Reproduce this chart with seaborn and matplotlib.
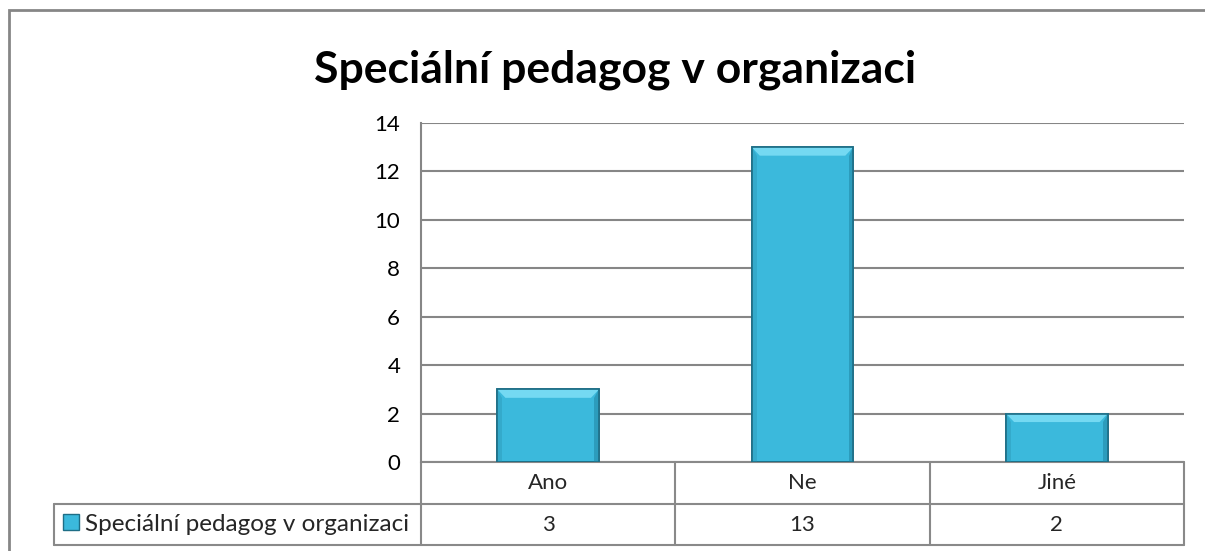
import matplotlib
matplotlib.use("Agg")
import matplotlib.pyplot as plt
import matplotlib.transforms as mtransforms
import seaborn as sns
import pandas as pd
from matplotlib.patches import Rectangle, Polygon

categories = ["Ano", "Ne", "Jiné"]
values = [3, 13, 2]
series_name = "Speciální pedagog v organizaci"
title = "Speciální pedagog v organizaci"
y_ticks = [0, 2, 4, 6, 8, 10, 12, 14]

sns.set_theme(style="white")
plt.rcParams["font.family"] = ["Lato", "DejaVu Sans"]

df = pd.DataFrame({"kategorie": categories, "pocet": values})

fig = plt.figure(figsize=(12.05, 5.51), dpi=100)
ax = fig.add_axes([0.3494, 0.1615, 0.6332, 0.6153])

bar_color = "#3BB9DC"
edge = "#1E6E86"
sns.barplot(data=df, x="kategorie", y="pocet", color=bar_color, width=0.4,
            saturation=1, edgecolor=edge, linewidth=1.2, ax=ax, zorder=3)

# bevel on each bar
for p in list(ax.patches):
    x0, w, h = p.get_x(), p.get_width(), p.get_height()
    dx = w * 0.08
    dy = 0.35
    ax.add_patch(Polygon([(x0, h), (x0 + w, h), (x0 + w - dx, h - dy), (x0 + dx, h - dy)],
                         closed=True, facecolor="#74D9F2", edgecolor="none", zorder=4))
    ax.add_patch(Polygon([(x0 + w, h), (x0 + w, 0), (x0 + w - dx * 0.6, 0), (x0 + w - dx * 0.6, h - dy)],
                         closed=True, facecolor="#2C9CBC", edgecolor="none", zorder=4))
    ax.add_patch(Polygon([(x0, h), (x0, 0), (x0 + dx * 0.6, 0), (x0 + dx * 0.6, h - dy)],
                         closed=True, facecolor="#34AACB", edgecolor="none", zorder=4))
    ax.add_patch(Rectangle((x0, 0), w, h, facecolor="none", edgecolor=edge,
                           linewidth=1.2, zorder=5))

ax.set_xlim(-0.5, len(categories) - 0.5)
ax.set_ylim(0, 14)
ax.set_yticks(y_ticks)
ax.set_yticklabels([str(t) for t in y_ticks], fontsize=16, color="black")
ax.tick_params(axis="y", length=0, pad=15)
ax.set_xticks([])
ax.set_xlabel("")
ax.set_ylabel("")
ax.grid(axis="y", color="#868686", linewidth=1.5, zorder=0)
for side in ["top", "right", "bottom"]:
    ax.spines[side].set_visible(False)
ax.spines["left"].set_color("#868686")
ax.spines["left"].set_linewidth(1.5)

# data table under the plot, drawn in axes coordinates
line_c = "#898989"
lab_w = 0.4698 + 0.0118
row1 = 0.1239
tab_h = 0.2448
kw = dict(transform=ax.transAxes, color=line_c, linewidth=1.5, clip_on=False, zorder=2)
ax.plot([-lab_w, 1], [-row1, -row1], **kw)
ax.plot([-lab_w, 1], [-tab_h, -tab_h], **kw)
ax.plot([0, 1], [0, 0], **kw)
for xv in [0, 1 / 3, 2 / 3, 1]:
    ax.plot([xv, xv], [0, -tab_h], **kw)
ax.plot([-lab_w, -lab_w], [-row1, -tab_h], **kw)

blend = mtransforms.blended_transform_factory(ax.transData, ax.transAxes)
for i, (cat, val) in enumerate(zip(categories, values)):
    ax.text(i, -row1 / 2, cat, transform=blend, ha="center", va="center",
            fontsize=16, clip_on=False)
    ax.text(i, -(row1 + tab_h) / 2, str(val), transform=blend, ha="center",
            va="center", fontsize=16, clip_on=False)

ax.text(-0.441, -(row1 + tab_h) / 2, series_name, transform=ax.transAxes,
        ha="left", va="center", fontsize=17.5, clip_on=False)
ax.add_patch(Rectangle((-0.4698, -0.2006), 0.021, 0.0472, transform=ax.transAxes,
                       clip_on=False, facecolor=bar_color, edgecolor=edge,
                       linewidth=1, zorder=6))

fig.text(0.5104, 0.873, title, ha="center", va="center", fontsize=32,
         fontweight="bold", color="black")

# outer chart border
fig.add_artist(Rectangle((9 / 1205, -0.05), 1.2, 1 - 10 / 551 + 0.05,
                         transform=fig.transFigure, facecolor="none",
                         edgecolor="#868686", linewidth=2))

fig.savefig("out.png", dpi=100)
